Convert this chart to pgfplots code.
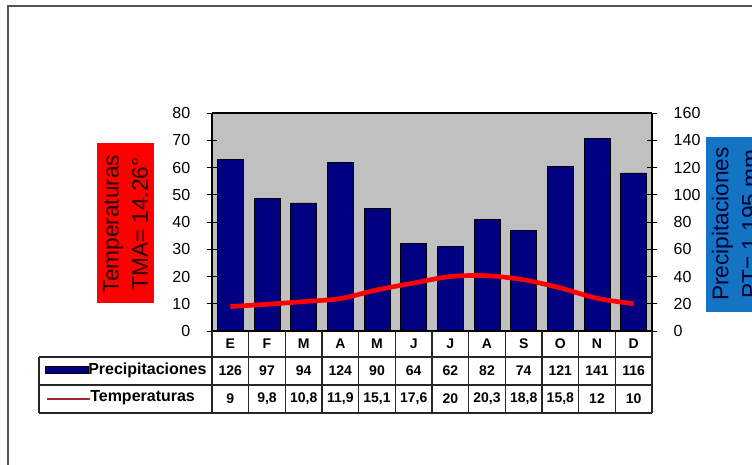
\documentclass[border=0pt]{standalone}
\usepackage{fontspec}
\setmainfont{Liberation Sans}
\usepackage{pgfplots}
\usepackage{pgfplotstable}
\pgfplotsset{compat=1.18}
\definecolor{navybar}{RGB}{0,0,128}
\definecolor{plotgray}{RGB}{192,192,192}
\definecolor{boxblue}{RGB}{20,116,196}
\definecolor{framegray}{RGB}{85,85,85}
\definecolor{legred}{RGB}{160,40,50}

% x = month index, prec in mm (right axis), temp in degrees (left axis)
\pgfplotstableread{
x prec temp
0 126 9
1 97 9.8
2 94 10.8
3 124 11.9
4 90 15.1
5 64 17.6
6 62 20
7 82 20.3
8 74 18.8
9 121 15.8
10 141 12
11 116 10
}\clima

\pgfplotsset{
  climabase/.style={
    at={(159pt,-248.25pt)}, anchor=south west,
    scale only axis, width=330pt, height=163.5pt,
    xmin=-0.5, xmax=11.5, xtick=\empty,
    tick align=center, major tick length=7.5pt,
    tick style={black, line width=0.7pt},
    /pgf/number format/assume math mode=true,
    yticklabel style={font=\fontsize{12}{14}\selectfont},
  },
}

\begin{document}
\begin{tikzpicture}
\useasboundingbox (0,0) rectangle (564pt,-348pt);
\clip (0,0) rectangle (564pt,-348pt);

\begin{scope}[x=0.75pt,y=-0.75pt]
  % outer frame
  \draw[framegray, line width=1.2pt] (8,470) -- (8,6) -- (760,6);
  % side boxes
  \fill[red] (97,143) rectangle (154,303);
  \node[rotate=90, align=center, font=\fontsize{17}{22}\selectfont, text=black!85!red]
    at (125.5,224) {Temperaturas\\TMA= 14.26°};
  \fill[boxblue] (706,137) rectangle (770,312);
  \node[rotate=90, align=center, font=\fontsize{17}{22}\selectfont, text=black!80!blue]
    at (735,224) {Precipitaciones\\PT= 1.195 mm};
\end{scope}

\begin{axis}[climabase,
  ymin=0, ymax=160, ytick={0,20,...,160},
  axis y line*=right, ytick pos=right, yticklabel pos=right,
  axis background/.style={fill=plotgray},
  axis line style={black, line width=0.9pt},
  ybar, bar width=19.5pt,
  yticklabel style={xshift=9pt},
]
\addplot[fill=navybar, draw=black, line width=0.6pt] table[x=x, y=prec]{\clima};
\end{axis}

\begin{axis}[climabase,
  ymin=0, ymax=80, ytick={0,10,...,80},
  axis x line*=none, axis y line*=left, ytick pos=left, yticklabel pos=left,
  axis line style={black, line width=0.9pt},
  yticklabel style={xshift=-9pt},
]
\addplot[red, line width=3.5pt, smooth, no marks] table[x=x, y=temp]{\clima};
\end{axis}

\begin{scope}[x=0.75pt,y=-0.75pt]
  % data table below the plot
  \begin{scope}[line width=1.1pt, black!85]
    \foreach \i in {0,...,12} \draw ({212+36.667*\i},331) -- ({212+36.667*\i},413);
    \draw (39,357) -- (652,357);
    \draw (39,385) -- (652,385);
    \draw (39,413) -- (652,413);
    \draw (39,357) -- (39,413);
  \end{scope}
  \begin{scope}[every node/.style={font=\fontsize{10.5}{12}\selectfont\bfseries, inner sep=0pt}]
    \foreach \m [count=\i from 0] in {E,F,M,A,M,J,J,A,S,O,N,D}
      \node at ({212+36.667*(\i+0.5)},344) {\m};
    \foreach \v [count=\i from 0] in {126,97,94,124,90,64,62,82,74,121,141,116}
      \node at ({212+36.667*(\i+0.5)},371) {\v};
    \foreach \v [count=\i from 0] in {{9},{9,8},{10,8},{11,9},{15,1},{17,6},{20},{20,3},{18,8},{15,8},{12},{10}}
      \node at ({212+36.667*(\i+0.5)},399) {\v};
    \fill[navybar, draw=black, line width=0.5pt] (45,366) rectangle (88,373);
    \node[anchor=west, font=\fontsize{12}{14}\selectfont\bfseries] at (88,370) {Precipitaciones};
    \draw[legred, line width=1.3pt] (47,399) -- (90,399);
    \node[anchor=west, font=\fontsize{12}{14}\selectfont\bfseries] at (90,398) {Temperaturas};
  \end{scope}
\end{scope}
\end{tikzpicture}
\end{document}
